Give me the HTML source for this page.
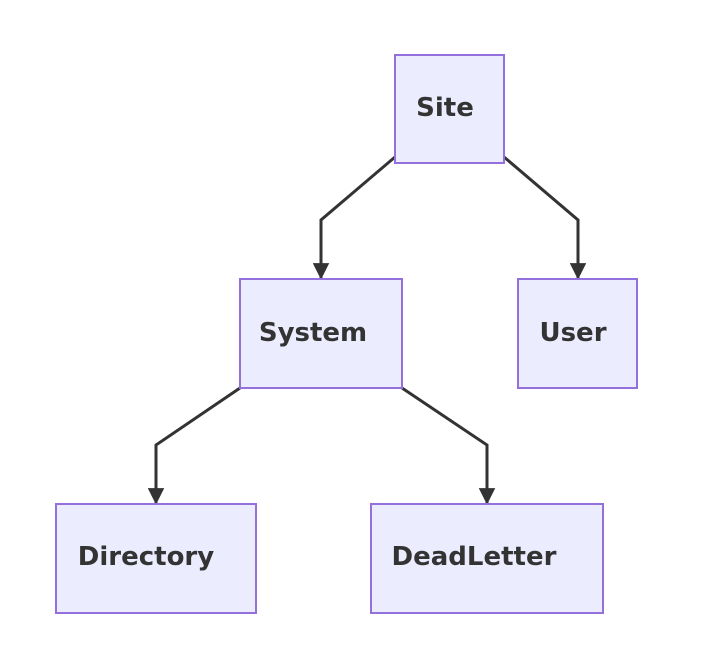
<!DOCTYPE html>
<html><head><meta charset="utf-8"><style>
html,body{margin:0;padding:0;background:#fff;}
</style></head><body>
<svg width="712" height="660" viewBox="0 0 712 660" xmlns="http://www.w3.org/2000/svg">
<defs><marker id="a" viewBox="0 0 10 10" refX="9" refY="5" markerWidth="5.5" markerHeight="5.5" orient="auto"><path d="M0,0L10,5L0,10z" fill="#333"/></marker></defs>
<g fill="none" stroke="#333" stroke-width="3">
<path d="M395,157 L321,220 L321,278" marker-end="url(#a)"/>
<path d="M504,157 L578,220 L578,278" marker-end="url(#a)"/>
<path d="M240,388 L156,445 L156,503" marker-end="url(#a)"/>
<path d="M402,388 L487,445 L487,503" marker-end="url(#a)"/>
</g>
<g fill="#ECECFF" stroke="#9370DB" stroke-width="2">
<rect x="395" y="55" width="109" height="108"/>
<rect x="240" y="279" width="162" height="109"/>
<rect x="518" y="279" width="119" height="109"/>
<rect x="56" y="504" width="200" height="109"/>
<rect x="371" y="504" width="232" height="109"/>
</g>
<g font-family="DejaVu Sans, Liberation Sans, sans-serif" font-size="26" font-weight="bold" fill="#333" text-anchor="middle">
<text x="445" y="116">Site</text>
<text x="313" y="341">System</text>
<text x="573" y="341">User</text>
<text x="146" y="565">Directory</text>
<text x="474" y="565">DeadLetter</text>
</g>
</svg>
</body></html>
